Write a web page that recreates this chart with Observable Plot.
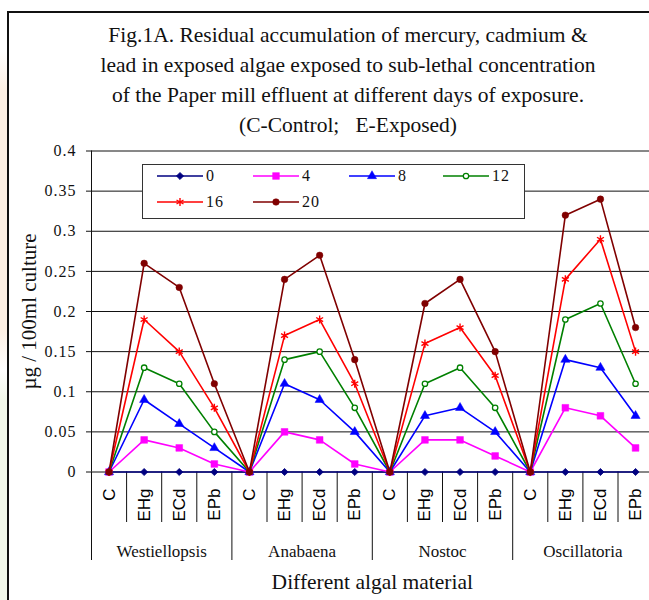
<!DOCTYPE html>
<html><head><meta charset="utf-8">
<script src="https://cdn.jsdelivr.net/npm/d3@7"></script>
<script src="https://cdn.jsdelivr.net/npm/@observablehq/plot@0.6"></script>
<style>
html,body{margin:0;padding:0;background:#fff;overflow:hidden;}
#page{position:relative;width:649px;height:600px;overflow:hidden;background:#fff;}
#strip{position:absolute;left:0;top:0;width:7px;height:600px;background:linear-gradient(to bottom,#fff 0px,#fff 50px,#fdf0e4 90px,#fdf0e4 330px,#fff 370px,#f2f8ea 400px,#f2f8ea 600px);}
#frame{position:absolute;left:7px;top:11px;width:800px;height:800px;border:2px solid #111;z-index:5;pointer-events:none;}
#title{position:absolute;left:48px;width:600px;top:20px;text-align:center;font-family:"Liberation Serif","Times New Roman",serif;font-size:21.5px;line-height:30px;color:#111;}
#chart{position:absolute;left:0;top:140px;}
#legend{position:absolute;left:142px;top:164px;width:381px;height:53px;border:1px solid #333;background:#fff;z-index:3;}
.item{position:absolute;display:flex;align-items:center;font-family:"Liberation Serif","Times New Roman",serif;font-size:16px;color:#111;height:14px;}
.item span{margin-left:3px;letter-spacing:1px;}
[aria-label="group labels"] text{letter-spacing:2px;}
[aria-label="y-axis tick label"] text{letter-spacing:1px;}
[aria-label="y title"] text{letter-spacing:1.3px;}
</style></head>
<body><div id="page"><div id="strip"></div><div id="frame"></div><div id="title"></div><div id="chart"></div><div id="legend"></div></div>
<script>
// ---- data ----
const titleLines = [
  "Fig.1A. Residual accumulation of mercury, cadmium &",
  "lead in exposed algae exposed to sub-lethal concentration",
  "of the Paper mill effluent at different days of exposure.",
  "(C-Control;\u00a0\u00a0\u00a0E-Exposed)"
];
const groups = ["Westiellopsis", "Anabaena", "Nostoc", "Oscillatoria"];
const treatments = ["C", "EHg", "ECd", "EPb"];
const days = ["0", "4", "8", "12", "16", "20"];
const yTicks = [0, 0.05, 0.1, 0.15, 0.2, 0.25, 0.3, 0.35, 0.4];
const xTitle = "Different algal material";
const yTitle = "\u00b5g / 100ml culture";

const day0  = [0,0,0,0, 0,0,0,0, 0,0,0,0, 0,0,0,0];
const day4  = [0,0.04,0.03,0.01, 0,0.05,0.04,0.01, 0,0.04,0.04,0.02, 0,0.08,0.07,0.03];
const day8  = [0,0.09,0.06,0.03, 0,0.11,0.09,0.05, 0,0.07,0.08,0.05, 0,0.14,0.13,0.07];
const day12 = [0,0.13,0.11,0.05, 0,0.14,0.15,0.08, 0,0.11,0.13,0.08, 0,0.19,0.21,0.11];
const day16 = [0,0.19,0.15,0.08, 0,0.17,0.19,0.11, 0,0.16,0.18,0.12, 0,0.24,0.29,0.15];
const day20 = [0,0.26,0.23,0.11, 0,0.24,0.27,0.14, 0,0.21,0.24,0.15, 0,0.32,0.34,0.18];
const seriesVals = [day0, day4, day8, day12, day16, day20];

// ---- styles ----
const colors = ["#000080", "#ff00ff", "#0000ff", "#008000", "#ff0000", "#800000"];
const symbols = ["diamond2", "square", "triangle", "circle", "asterisk", "circle"];
const radii = [3.2, 3.8, 3.4, 2.7, 3.8, 3.3];
const fills = ["#000080", "#ff00ff", "#0000ff", "#ffffff", "none", "#800000"];
const symStroke = [0.8, 0.5, 0.5, 1.3, 1.4, 0.5];

// ---- title ----
document.getElementById("title").innerHTML = titleLines.map(t => `<div>${t}</div>`).join("");

// ---- chart ----
const N = groups.length * treatments.length;
const idx = d3.range(N);
const groupBounds = d3.range(0, N + 1, treatments.length);
const innerBounds = d3.range(N).filter(k => k % treatments.length !== 0);
const fmt = d => String(+d.toFixed(2));

const marks = [
  Plot.ruleY(yTicks, {y: d => d, stroke: "#111", strokeWidth: 1}),
  Plot.ruleX([0], {y1: 0, y2: 0.4, stroke: "#111"}),
  Plot.axisY(yTicks, {tickSize: 5, tickPadding: 10, tickFormat: fmt, fontSize: 16,
    fontFamily: "Liberation Serif", label: null}),
  Plot.axisX(groupBounds, {tickSize: 88.5, tickFormat: () => "", label: null}),
  Plot.axisX(innerBounds, {tickSize: 50.5, tickFormat: () => "", label: null}),
  Plot.text(idx, {x: i => i + 0.5, y: 0, text: i => treatments[i % treatments.length], rotate: -90,
    textAnchor: "end", lineAnchor: "middle", dy: 16.5, fontFamily: "Liberation Sans", fontSize: 17, fill: "#000"}),
  Plot.text(groups, {x: (d, i) => i * treatments.length + treatments.length / 2, y: 0, text: d => d, dy: 80,
    fontSize: 17, fontFamily: "Liberation Serif", fill: "#111", ariaLabel: "group labels"}),
  Plot.text([xTitle], {x: N / 2, y: 0, text: d => d, dy: 110, fontSize: 21.5, fontFamily: "Liberation Serif", fill: "#111"}),
  Plot.text([yTitle], {frameAnchor: "left", text: d => d, rotate: -90, dx: -62, textAnchor: "middle",
    fontSize: 21, fontFamily: "Liberation Serif", fill: "#111", ariaLabel: "y title"})
];
seriesVals.forEach((vals, k) => {
  marks.push(Plot.line(idx, {x: i => i + 0.5, y: i => vals[i], stroke: colors[k], strokeWidth: 1.6}));
  marks.push(Plot.dot(idx, {x: i => i + 0.5, y: i => vals[i], symbol: symbols[k], r: radii[k],
    fill: fills[k], stroke: colors[k], strokeWidth: symStroke[k]}));
});

const chart = Plot.plot({
  width: 649, height: 460,
  marginLeft: 91, marginRight: 0, marginTop: 10.5, marginBottom: 128.5,
  x: {type: "linear", domain: [0, N], range: [91, 652.6]},
  y: {domain: [0, 0.4]},
  style: {fontFamily: "Liberation Serif", fontSize: "15px", color: "#111", background: "transparent"},
  marks
});
document.getElementById("chart").appendChild(chart);

// ---- legend ----
const legend = document.getElementById("legend");
const symMap = {diamond2: d3.symbolDiamond2, square: d3.symbolSquare, triangle: d3.symbolTriangle,
  circle: d3.symbolCircle, asterisk: d3.symbolAsterisk};
const colX = [14, 110, 206, 300];
const rowY = [11, 37];
days.forEach((d, k) => {
  const col = k % 4, row = Math.floor(k / 4);
  const item = document.createElement("div");
  item.className = "item";
  item.style.left = colX[col] + "px";
  item.style.top = (rowY[row] - 7) + "px";
  const path = d3.symbol(symMap[symbols[k]], Math.PI * radii[k] * radii[k])();
  item.innerHTML = `<svg width="46" height="14"><line x1="0" x2="46" y1="7" y2="7" stroke="${colors[k]}" stroke-width="1.6"/>` +
    `<path d="${path}" transform="translate(23,7)" fill="${fills[k]}" stroke="${colors[k]}" stroke-width="${symStroke[k]}"/></svg><span>${d}</span>`;
  legend.appendChild(item);
});
</script>
</body></html>
